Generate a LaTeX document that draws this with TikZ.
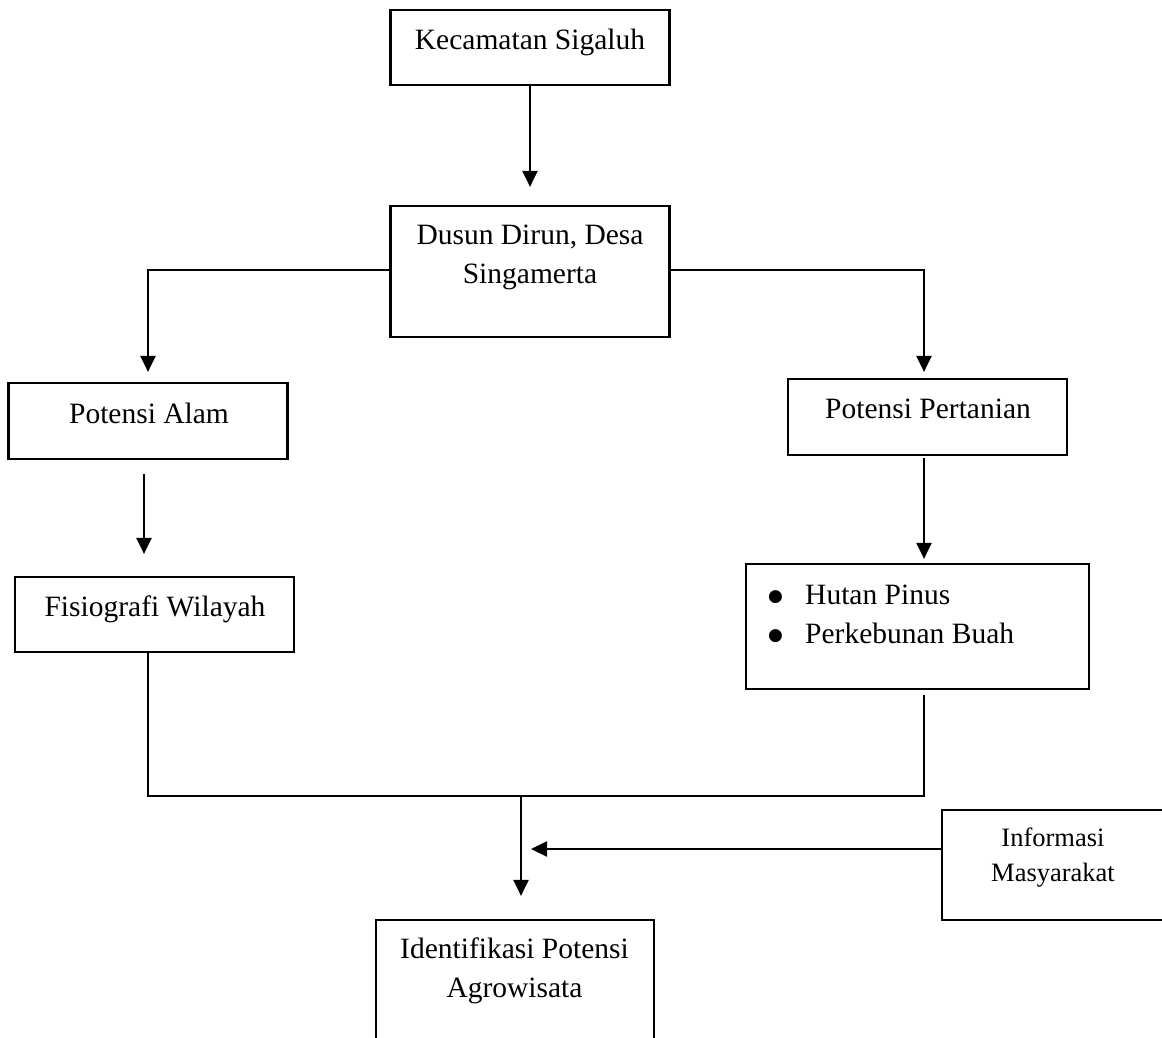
\documentclass[tikz,border=0pt]{standalone}
\usepackage{fontspec}
\setmainfont{Liberation Serif}
\newfontfamily\symfnt{DejaVu Sans}
\usetikzlibrary{arrows.meta}
\newcommand{\bigbul}{\makebox[12pt][l]{\raisebox{3pt}{\symfnt\fontsize{17}{39}\selectfont ●}}}
\begin{document}
\begin{tikzpicture}[x=1pt,y=-1pt,
  box/.style={draw, line width=2.2pt, inner sep=0pt, rectangle},
  txt/.style={anchor=base, inner sep=0pt, font=\fontsize{29.5}{39}\selectfont},
  smalltxt/.style={anchor=base, inner sep=0pt, font=\fontsize{26.5}{35}\selectfont},
  conn/.style={line width=2.2pt},
  arr/.style={line width=2.2pt, -{Triangle[length=16pt,width=15pt]}}]
\path[use as bounding box, clip] (0,0) rectangle (1162,1038);
\fill[white] (0,0) rectangle (1162,1038);
% boxes
\node[box, minimum width=279pt, minimum height=75pt] (k) at (530,47.5) {};
\node[box, minimum width=279pt, minimum height=131pt] (d) at (530,271.5) {};
\node[box, minimum width=279pt, minimum height=76pt] (pa) at (148,421) {};
\node[box, minimum width=279pt, minimum height=76pt] (pp) at (927.5,417) {};
\node[box, minimum width=279pt, minimum height=75pt] (fw) at (154.5,614.5) {};
\node[box, minimum width=343pt, minimum height=125pt] (hp) at (917.5,626.5) {};
\node[box, minimum width=233pt, minimum height=110pt] (im) at (1058.5,865) {};
\node[box, minimum width=278pt, minimum height=150pt] (ia) at (515,995) {};
% texts
\node[txt] (kt) at (530,50) {Kecamatan Sigaluh};
\node[txt] (dt) at (530,244) {\begin{tabular}[t]{@{}c@{}}Dusun Dirun, Desa\\Singamerta\end{tabular}};
\node[txt] (pat) at (149,423) {Potensi Alam};
\node[txt] (ppt) at (928,418) {Potensi Pertanian};
\node[txt] (fwt) at (155,616) {Fisiografi Wilayah};
\node[txt, anchor=base west] (hpt) at (768,604) {\begin{tabular}[t]{@{}l@{\hspace{25pt}}l@{}}\bigbul & Hutan Pinus\\\bigbul & Perkebunan Buah\end{tabular}};
\node[smalltxt] (imt) at (1053,846) {\begin{tabular}[t]{@{}c@{}}Informasi\\Masyarakat\end{tabular}};
\node[txt] (iat) at (514.5,958) {\begin{tabular}[t]{@{}c@{}}Identifikasi Potensi\\Agrowisata\end{tabular}};
% connectors
\draw[arr, shorten >=18pt] (k.south) -- (d.north);
\draw[arr, shorten >=10pt] ([yshift=1.5pt]d.west) -| (pa.north);
\draw[arr, shorten >=6pt] ([yshift=1.5pt]d.east) -| ([xshift=-3.5pt]pp.north);
\draw[arr, shorten <=14pt, shorten >=22pt] ([xshift=-4pt]pa.south) -- ([xshift=-4pt]pa.south |- fw.north);
\draw[arr, shorten <=2pt, shorten >=4pt] ([xshift=-3.5pt]pp.south) -- ([xshift=-3.5pt]pp.south |- hp.north);
\coordinate (jl) at (148,796);
\coordinate (jr) at (924,796);
\coordinate (j) at (521,796);
\coordinate (ti) at (531,849);
\draw[conn] ([xshift=-6.5pt]fw.south) -- (jl) -- (jr) -- ([xshift=6.5pt,yshift=-5pt]hp.south);
\draw[arr, shorten >=23pt] (j) -- (j |- ia.north);
\draw[arr] ([yshift=16pt]im.west) -- (ti);
\end{tikzpicture}
\end{document}
